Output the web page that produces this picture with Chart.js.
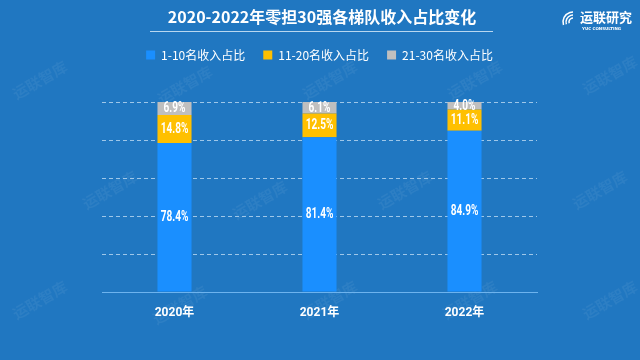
<!DOCTYPE html>
<html><head><meta charset="utf-8">
<script src="https://cdn.jsdelivr.net/npm/chart.js@4/dist/chart.umd.min.js"></script>
<style>
html,body{margin:0;padding:0;background:#2077c1;}
#wrap{position:relative;width:640px;height:360px;}
</style></head>
<body><div id="wrap"><canvas id="c" width="640" height="360"></canvas></div>
<script>
const categories = ['2020年','2021年','2022年'];
const seriesNames = ['1-10名收入占比','11-20名收入占比','21-30名收入占比'];
const top10 = [78.4, 81.4, 84.9];
const top20 = [14.8, 12.5, 11.1];
const top30 = [6.9, 6.1, 4.0];
const yTicks = [0,20,40,60,80,100];
const titleText = '2020-2022年零担30强各梯队收入占比变化';
const colors = ['#1a8fff','#ffc000','#bfbfbf'];

const bgPlugin = {
  id:'bg',
  afterInit(chart){
    const lg = chart.legend;
    if(lg && !lg._patched){
      const orig = lg.fit;
      lg.fit = function(){ orig.call(this); this.height = 71; };
      lg._patched = true;
    }
  },
  beforeDraw(chart){
    const ctx = chart.ctx;
    ctx.save();
    ctx.fillStyle = '#2077c1';
    ctx.fillRect(0,0,chart.width,chart.height);
    ctx.fillStyle = 'rgba(255,255,255,0.06)';
    ctx.font = 'bold 15px "Noto Sans CJK SC"';
    const marks = [[40,80],[185,85],[330,80],[475,80],[610,75],[110,190],[260,200],[405,190],[600,190],[40,300],[180,305],[330,300],[470,300],[610,300]];
    marks.forEach(([x,y])=>{ctx.save();ctx.translate(x,y);ctx.rotate(-Math.PI/6);ctx.fillText('运联智库',-30,0);ctx.restore();});
    ctx.restore();
  },
  afterDraw(chart){
    const ctx = chart.ctx;
    ctx.save();
    ctx.fillStyle = '#ffffff';
    ctx.font = 'bold 16px "Noto Sans CJK SC"';
    ctx.textAlign = 'center';
    ctx.textBaseline = 'middle';
    ctx.fillText(titleText, 322, 17);
    ctx.strokeStyle = 'rgba(200,225,245,0.9)';
    ctx.lineWidth = 1;
    ctx.beginPath(); ctx.moveTo(150,31.5); ctx.lineTo(493,31.5); ctx.stroke();
    ctx.strokeStyle = '#ffffff'; ctx.lineWidth = 1.5;
    for(let i=0;i<3;i++){ctx.beginPath();ctx.arc(573,22, 4+i*3, Math.PI*0.9, Math.PI*1.5);ctx.stroke();}
    ctx.textAlign='left';
    ctx.font = 'bold 13px "Noto Sans CJK SC"';
    ctx.fillText('运联研究', 580, 17);
    ctx.font = 'bold 4px "DejaVu Sans"';
    ctx.fillText('YUC CONSULTING', 582, 29);
    ctx.restore();
  }
};

const labelPlugin = {
  id:'segLabels',
  afterDatasetsDraw(chart){
    const ctx = chart.ctx;
    chart.data.datasets.forEach((ds,di)=>{
      chart.getDatasetMeta(di).data.forEach((bar,i)=>{
        const y = (bar.y + bar.base)/2;
        ctx.save();
        ctx.fillStyle = '#ffffff';
        ctx.font = 'bold 14px Roboto';
        ctx.textAlign = 'center';
        ctx.textBaseline = 'middle';
        ctx.translate(bar.x, y+0.5);
        ctx.scale(0.72,1);
        ctx.fillText(ds.data[i].toFixed(1)+'%', 0, 0);
        ctx.restore();
      });
    });
  }
};

new Chart(document.getElementById('c'), {
  type:'bar',
  data:{
    labels: categories,
    datasets:[
      {label:seriesNames[0], data:top10, backgroundColor:colors[0]},
      {label:seriesNames[1], data:top20, backgroundColor:colors[1]},
      {label:seriesNames[2], data:top30, backgroundColor:colors[2]}
    ]
  },
  options:{
    responsive:false,
    animation:false,
    devicePixelRatio:1,
    layout:{padding:{left:102,right:103,top:31,bottom:0}},
    datasets:{bar:{barPercentage:0.47,categoryPercentage:0.5}},
    plugins:{
      legend:{
        position:'top',
        labels:{color:'#ffffff',font:{family:'"Noto Sans CJK SC"',size:12},boxWidth:9,boxHeight:9,padding:18},
      },
      tooltip:{enabled:false}
    },
    scales:{
      x:{stacked:true,
         afterFit(s){ s.height = 68; },
         grid:{display:false,drawTicks:false},
         border:{display:true,color:'#6db3ee',width:1},
         ticks:{color:'#ffffff',font:{family:'Roboto, "Noto Sans CJK SC"',size:12,weight:'bold'},padding:14}
      },
      y:{stacked:true,min:0,max:100,
         afterBuildTicks(s){s.ticks = yTicks.map(v=>({value:v}));},
         ticks:{display:false},
         border:{display:false,dash:[4,3]},
         grid:{color:(c)=>c.tick && c.tick.value===0?'rgba(0,0,0,0)':'rgba(200,225,245,0.75)',drawTicks:false,lineWidth:1}
      }
    }
  },
  plugins:[bgPlugin,labelPlugin]
});
</script></body></html>
